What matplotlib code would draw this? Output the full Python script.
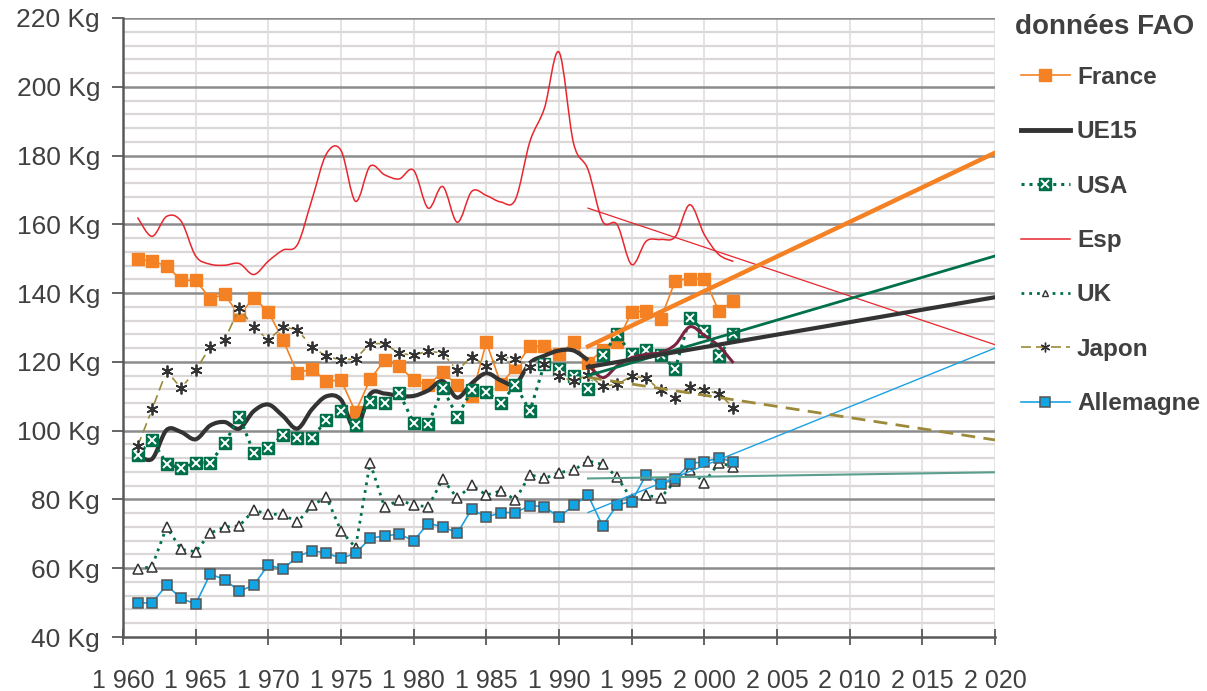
import numpy as np
import matplotlib
matplotlib.use('Agg')
import matplotlib.pyplot as plt
from matplotlib.lines import Line2D
from matplotlib.path import Path
from matplotlib.patches import PathPatch
from matplotlib.ticker import FuncFormatter, MultipleLocator

plt.rcParams['font.family'] = ['Liberation Sans', 'DejaVu Sans']

# consommation de viande par habitant (kg/an), 1961-2002
years = list(range(1961, 2003))
france = [150, 149.2, 148, 143.7, 143.7, 138.4, 139.6, 133.5, 138.7, 134.5,
          126.5, 116.7, 118, 114.4, 114.7, 105.4, 114.9, 120.5, 118.8, 114.7,
          113.3, 117, 113.3, 110, 125.7, 113.6, 118.4, 124.6, 124.6, 122.2,
          125.7, 119.7, 123.4, 125.7, 134.5, 134.8, 132.5, 143.6, 144.2, 144.2,
          134.8, 137.7]
usa = [93, 97.3, 90.4, 89, 90.7, 90.7, 96.3, 104.1, 93.6, 94.9,
       98.7, 98, 98, 103, 105.7, 101.6, 108.4, 108.1, 111, 102.3,
       101.8, 112.3, 104.1, 111.8, 111.3, 108.1, 113.3, 105.7, 119.5, 117.8,
       115.9, 112.2, 122, 128, 122.2, 123.6, 121.9, 118, 132.8, 129,
       121.7, 128]
esp = [162, 156.5, 162.3, 160.9, 150.8, 148.4, 148.1, 148.6, 145.4, 149.3,
       152.5, 154.1, 167.2, 180.5, 181.5, 166.7, 176.9, 174.4, 173.2, 175.7,
       164.7, 171, 160.6, 169.6, 168.4, 166.5, 167.2, 184.1, 193.8, 210.1,
       183.6, 175.9, 160.9, 159.9, 148.3, 155.1, 155.6, 156.4, 165.7, 157,
       151.2, 149.2]
uk = [59.7, 60.5, 72, 65.5, 64.8, 70.2, 72, 72.3, 76.9, 75.7,
      75.7, 73.3, 78.3, 80.6, 70.9, 66, 90.7, 77.7, 79.9, 78.3,
      77.9, 85.9, 80.4, 84.1, 81.3, 82.5, 79.9, 87.2, 86.1, 87.8,
      88.5, 91.2, 90.2, 86.6, 80, 81.2, 80.5, 85.4, 88.6, 84.9,
      90.7, 89.5]
japon = [95.4, 106.2, 117.4, 112.3, 117.6, 124.3, 126.4, 135.7, 130.1, 126.4,
         130.1, 129.4, 124.3, 121.7, 120.5, 120.9, 125.3, 125.3, 122.5, 121.9,
         123.2, 122.5, 117.5, 121.5, 118.8, 121.5, 120.9, 118.6, 119.3, 115.9,
         114.3, 116.3, 112.9, 113.5, 115.9, 115.2, 111.7, 109.4, 112.8, 111.7,
         110.8, 106.7]
allemagne = [49.9, 49.9, 55.1, 51.2, 49.6, 58.3, 56.7, 53.3, 55.1, 61,
             59.7, 63.4, 65.1, 64.4, 62.9, 64.3, 68.7, 69.4, 69.9, 68,
             73, 72.1, 70.2, 77.2, 74.8, 76.2, 76.2, 78.2, 77.9, 74.8,
             78.3, 81.2, 72.3, 78.4, 79.4, 87.2, 84.4, 85.9, 90.4, 91,
             92, 91]

years_ue15 = list(range(1961, 1993))
ue15 = [93, 91.8, 100.2, 99.6, 97.5, 101.5, 102.5, 100.6, 105.7, 107.6,
        104.3, 100.6, 106.2, 110, 109, 100.4, 110.6, 110.8, 110.1, 110.1,
        111.7, 114.4, 109.6, 113.8, 116.7, 114.6, 113.5, 119.7, 121.8, 123.3,
        123.3, 120.5]
years_ue15b = list(range(1992, 2003))
ue15b = [119.3, 115.4, 118.8, 121.2, 122.2, 122.7, 125, 130.2, 127.7, 124.6, 119.7]

# courbes de tendance (debut, fin)
trend_years = [1992, 2020]
france_trend = [124.5, 180.8]
ue15_trend = [118.5, 138.8]
usa_trend = [116, 150.8]
esp_trend = [164.7, 125]
uk_trend = [86.1, 87.9]
japon_trend = [115.5, 97.3]
allemagne_trend = [76.2, 124]

ORANGE = '#F48225'
DARK = '#333333'
GREEN = '#00704A'
RED = '#E8262E'
OLIVE = '#9C8A3A'
BLUE = '#1BA1E2'
MAROON = '#7B2241'
TEAL = '#5A9E8E'
TXT = '#404040'


def smooth_path(x, y):
    # courbe lissee facon tableur (Catmull-Rom -> Bezier)
    pts = np.column_stack([x, y]).astype(float)
    verts = [pts[0]]
    codes = [Path.MOVETO]
    n = len(pts)
    for i in range(n - 1):
        p0 = pts[i - 1] if i > 0 else pts[i]
        p1 = pts[i]
        p2 = pts[i + 1]
        p3 = pts[i + 2] if i + 2 < n else p2
        verts += [p1 + (p2 - p0) / 6, p2 - (p3 - p1) / 6, p2]
        codes += [Path.CURVE4] * 3
    return Path(verts, codes)


fig = plt.figure(figsize=(12.07, 6.91), dpi=100)
ax = fig.add_axes([123 / 1207, 1 - 637 / 691, 872 / 1207, 619 / 691])

ax.set_xlim(1960, 2020)
ax.set_ylim(40, 220)

# grilles
for v in np.arange(44, 220, 4):
    if v % 20:
        ax.axhline(v, color='#dcd7d7', lw=1.6, zorder=0)
for v in range(60, 221, 20):
    ax.axhline(v, color='#8c8c8c', lw=1.8, zorder=0.5)
for yr in range(1965, 2021, 5):
    ax.axvline(yr, color='#dcdcdc', lw=1.1, zorder=0)

# series
ax.plot(years, france, color=ORANGE, lw=1.2, marker='s', ms=9,
        mfc=ORANGE, mec=ORANGE, zorder=3)
ax.add_patch(PathPatch(smooth_path(years_ue15, ue15), fill=False,
                       edgecolor=DARK, lw=3, zorder=3.1))
ax.plot(years, usa, color=GREEN, lw=2.2, ls=(0, (1, 1.6)), marker='s', ms=9,
        mfc=GREEN, mec=GREEN, zorder=3.2)
ax.plot(years, usa, ls='none', marker='x', ms=5.5, mec='white', mew=1.4,
        zorder=3.25)
ax.add_patch(PathPatch(smooth_path(years, esp), fill=False,
                       edgecolor=RED, lw=1.1, zorder=3.3))
ax.plot(years, uk, color=GREEN, lw=2, ls=(0, (1, 1.8)), marker='^', ms=6.5,
        mfc='white', mec=DARK, mew=1.1, zorder=3.4)
ax.plot(years, japon, color=OLIVE, lw=1.2, ls=(0, (6, 3)), zorder=3.5)
ax.plot(years, japon, ls='none', marker='s', ms=7, mfc='white', mec='none',
        zorder=3.52)
ax.plot(years, japon, ls='none', marker=(6, 2, 0), ms=8.5, mec=DARK, mew=1.3,
        zorder=3.55)
ax.plot(years, allemagne, color=BLUE, lw=1.2, marker='s', ms=6.5,
        mfc='#12A5E3', mec='#555555', mew=1.1, zorder=3.6)
ax.add_patch(PathPatch(smooth_path(years_ue15b, ue15b), fill=False,
                       edgecolor=MAROON, lw=2.2, zorder=3.7))

# tendances
ax.plot(trend_years, uk_trend, color=TEAL, lw=1.5, zorder=4)
ax.plot(trend_years, allemagne_trend, color=BLUE, lw=1.0, zorder=4)
ax.plot(trend_years, esp_trend, color=RED, lw=0.9, zorder=4)
ax.plot(trend_years, japon_trend, color=OLIVE, lw=2, ls=(0, (5, 3)), zorder=4)
ax.plot(trend_years, usa_trend, color=GREEN, lw=2, zorder=4.1)
ax.plot(trend_years, ue15_trend, color=DARK, lw=3, zorder=4.2)
ax.plot(trend_years, france_trend, color=ORANGE, lw=3.2, zorder=4.3)

# axes
for s in ['top', 'right']:
    ax.spines[s].set_visible(False)
for s in ['left', 'bottom']:
    ax.spines[s].set_color('#595959')
    ax.spines[s].set_linewidth(1.8)

ax.xaxis.set_major_locator(MultipleLocator(5))
ax.yaxis.set_major_locator(MultipleLocator(20))
ax.xaxis.set_major_formatter(FuncFormatter(lambda v, p: f'{int(v):,}'.replace(',', ' ')))
ax.yaxis.set_major_formatter(FuncFormatter(lambda v, p: f'{int(v)} Kg'))
ax.tick_params(axis='x', direction='inout', length=12, width=1.3, color='#595959',
               labelsize=18, labelcolor=TXT, pad=17)
ax.tick_params(axis='y', direction='out', length=8, width=1.3, color='#595959',
               labelsize=19, labelcolor=TXT, pad=8.5)

# legende
fig.text(1015 / 1207, 1 - 27 / 691, 'données FAO', fontsize=20, fontweight='bold',
         color=TXT, ha='left', va='center')
handles = [
    Line2D([], [], color=ORANGE, lw=1.2, marker='s', ms=9, mfc=ORANGE, mec=ORANGE),
    Line2D([], [], color=DARK, lw=3.5),
    (Line2D([], [], color=GREEN, lw=2.2, ls=(0, (1, 1.6)), marker='s', ms=9,
            mfc=GREEN, mec=GREEN),
     Line2D([], [], ls='none', marker='x', ms=5.5, mec='white', mew=1.4)),
    Line2D([], [], color=RED, lw=1.1),
    Line2D([], [], color=GREEN, lw=2, ls=(0, (1, 1.8)), marker='^', ms=5,
           mfc='white', mec=DARK, mew=1),
    Line2D([], [], color=OLIVE, lw=1.2, ls=(0, (6, 3)), marker=(6, 2, 0), ms=7,
           mec=DARK, mew=1),
    Line2D([], [], color=BLUE, lw=1.2, marker='s', ms=6.5, mfc='#12A5E3',
           mec='#555555', mew=1.1),
]
labels = ['France', 'UE15', 'USA', 'Esp', 'UK', 'Japon', 'Allemagne']
leg = fig.legend(handles, labels, loc='upper left',
                 bbox_to_anchor=(1021 / 1207, 1 - 66 / 691),
                 bbox_transform=fig.transFigure, frameon=False,
                 prop={'weight': 'bold', 'size': 17.5},
                 handlelength=2.0, handletextpad=0.3, labelspacing=1.29,
                 borderpad=0, borderaxespad=0)
for t in leg.get_texts():
    t.set_color(TXT)

fig.savefig('out.png', dpi=100)
